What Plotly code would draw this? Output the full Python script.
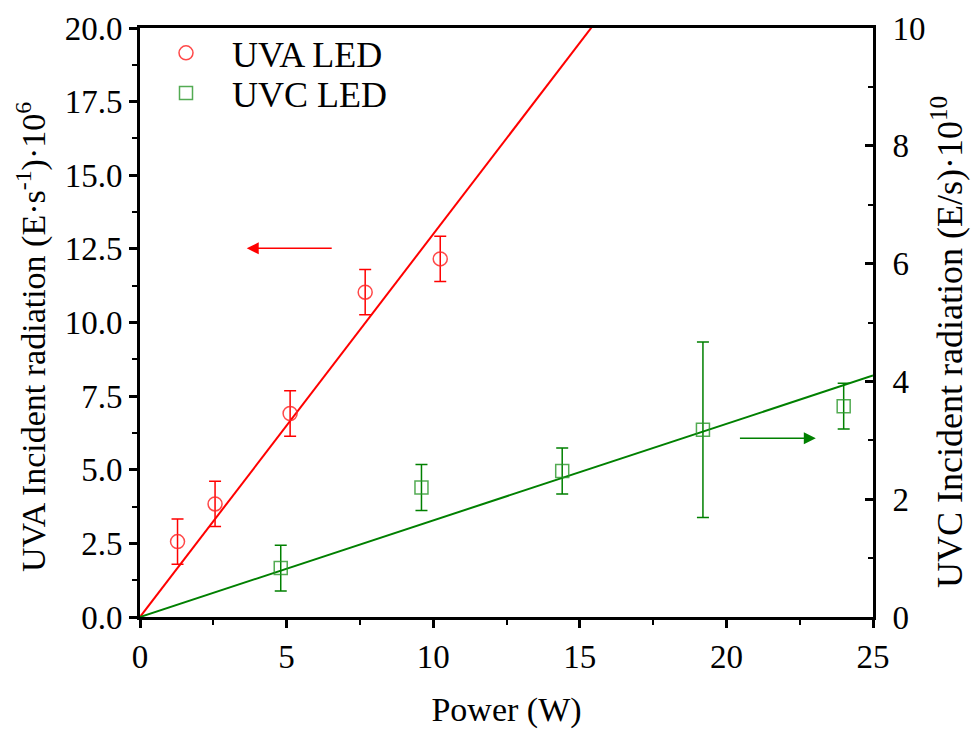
import numpy as np
import plotly.graph_objects as go

# ---- data ----
uva_power = [1.28, 2.56, 5.12, 7.68, 10.24]
uva_rad = [2.56, 3.84, 6.91, 11.03, 12.16]
uva_err = [0.77, 0.77, 0.77, 0.77, 0.77]

uvc_power = [4.8, 9.6, 14.4, 19.2, 24.0]
uvc_rad = [0.83, 2.20, 2.48, 3.18, 3.58]
uvc_err = [0.39, 0.39, 0.39, 1.49, 0.39]

x_ticks = [0, 5, 10, 15, 20, 25]
y_left_ticks = [0, 2.5, 5, 7.5, 10, 12.5, 15, 17.5, 20]
y_right_ticks = [0, 2, 4, 6, 8, 10]

# least-squares fits through origin
ua = np.array(uva_power); va = np.array(uva_rad)
uc = np.array(uvc_power); vc = np.array(uvc_rad)
slope_a = float((ua * va).sum() / (ua * ua).sum())
slope_c = float((uc * vc).sum() / (uc * uc).sum())
fit_x = [0, 25]

FONT = "Liberation Serif"
RED = "#ff0000"
GREEN = "#008000"

fig = go.Figure()

fig.add_trace(go.Scatter(x=fit_x, y=[slope_a * v for v in fit_x], mode="lines",
                         line=dict(color=RED, width=2), showlegend=False, hoverinfo="skip"))
fig.add_trace(go.Scatter(x=fit_x, y=[slope_c * v for v in fit_x], mode="lines", yaxis="y2",
                         line=dict(color=GREEN, width=2), showlegend=False, hoverinfo="skip"))

fig.add_trace(go.Scatter(
    x=uva_power, y=uva_rad, mode="markers", name="UVA LED", legend="legend",
    marker=dict(symbol="circle-open", size=14, color="rgba(255,40,40,0.85)", line=dict(width=1.5)),
    error_y=dict(type="data", array=uva_err, visible=True, color=RED, thickness=1.5, width=6),
))
fig.add_trace(go.Scatter(
    x=uvc_power, y=uvc_rad, mode="markers", name="UVC LED", yaxis="y2", legend="legend2",
    marker=dict(symbol="square-open", size=13, color="rgba(40,150,40,0.8)", line=dict(width=1.5)),
    error_y=dict(type="data", array=uvc_err, visible=True, color=GREEN, thickness=1.5, width=6),
))

# arrows pointing to the axes
fig.add_annotation(x=3.64, y=12.52, ax=6.59, ay=12.52, xref="x", yref="y", axref="x", ayref="y",
                   showarrow=True, arrowhead=2, arrowsize=1.6, arrowwidth=1.5, arrowcolor=RED, text="")
fig.add_annotation(x=23.05, y=6.07, ax=20.41, ay=6.07, xref="x", yref="y", axref="x", ayref="y",
                   showarrow=True, arrowhead=2, arrowsize=1.6, arrowwidth=1.5, arrowcolor=GREEN, text="")

# vertical axis titles (as annotations for exact placement)
fig.add_annotation(text="UVA Incident radiation (E·s<sup>-1</sup>)·10<sup>6</sup>",
                   xref="paper", yref="paper", x=-0.1473, y=0.4754, xanchor="center", yanchor="middle",
                   textangle=-90, showarrow=False, font=dict(family=FONT, size=34, color="black"))
fig.add_annotation(text="UVC Incident radiation (E/s)·10<sup>10</sup>",
                   xref="paper", yref="paper", x=1.1023, y=0.4669, xanchor="center", yanchor="middle",
                   textangle=-90, showarrow=False, font=dict(family=FONT, size=36, color="black"))

axis_common = dict(showgrid=False, zeroline=False, showline=True, linecolor="black", linewidth=3,
                   tickcolor="black", tickwidth=3, ticklen=8, automargin=False,
                   tickfont=dict(family=FONT, size=33, color="black"))

leg_common = dict(xanchor="left", yanchor="middle", bgcolor="rgba(0,0,0,0)",
                  font=dict(family=FONT, size=36, color="black"), itemwidth=82)

fig.update_layout(
    width=971, height=729,
    margin=dict(l=140, r=98, t=28, b=112),
    paper_bgcolor="white", plot_bgcolor="white",
    font=dict(family=FONT, color="black"),
    xaxis=dict(range=[0, 25], tickvals=x_ticks, ticks="outside", mirror=True,
               minor=dict(dtick=2.5, ticks="outside", ticklen=5, tickwidth=2, tickcolor="black"),
               title=dict(text="Power (W)", font=dict(family=FONT, size=34), standoff=24),
               **axis_common),
    yaxis=dict(range=[0, 20], tickvals=y_left_ticks, tickformat=".1f", ticks="outside",
               minor=dict(dtick=1.25, ticks="outside", ticklen=5, tickwidth=2, tickcolor="black"),
               **axis_common),
    yaxis2=dict(range=[0, 10], tickvals=y_right_ticks, ticks="inside", overlaying="y", side="right",
                ticklabelstandoff=10,
                minor=dict(dtick=1, ticks="inside", ticklen=5, tickwidth=2, tickcolor="black"),
                **axis_common),
    legend=dict(x=0.0, y=0.9576, **leg_common),
    legend2=dict(x=0.0, y=0.8896, **leg_common),
    showlegend=True,
)

fig.write_html("out.html")
